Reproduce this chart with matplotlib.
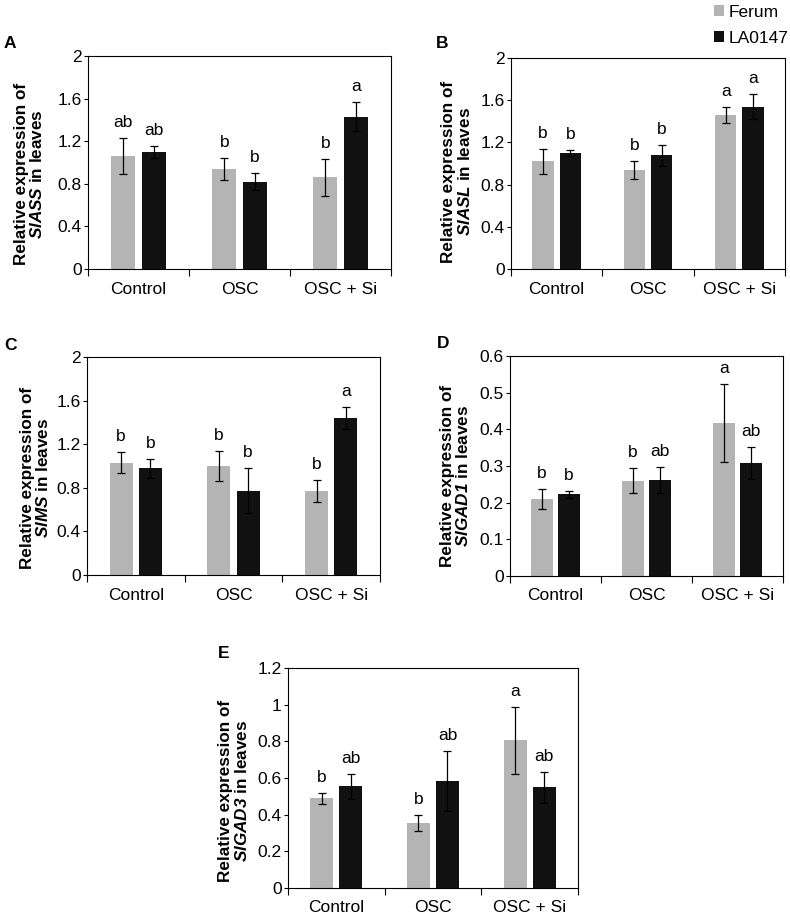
import matplotlib
matplotlib.use('Agg')
import matplotlib.pyplot as plt
import numpy as np

plt.rcParams['font.family'] = ['Liberation Sans', 'DejaVu Sans']
plt.rcParams['mathtext.fontset'] = 'custom'
plt.rcParams['mathtext.it'] = 'Liberation Sans:italic'
plt.rcParams['mathtext.bf'] = 'Liberation Sans:bold'
plt.rcParams['mathtext.bfit'] = 'Liberation Sans:bold:italic'
plt.rcParams['mathtext.rm'] = 'Liberation Sans'

# dados
grupos = ['Control', 'OSC', 'OSC + Si']

ass_ferum = [1.06, 0.94, 0.86]
ass_ferum_err = [0.17, 0.10, 0.17]
ass_la = [1.10, 0.82, 1.43]
ass_la_err = [0.055, 0.08, 0.135]
ass_ferum_let = ['ab', 'b', 'b']
ass_la_let = ['ab', 'b', 'a']

asl_ferum = [1.02, 0.94, 1.46]
asl_ferum_err = [0.115, 0.085, 0.075]
asl_la = [1.10, 1.08, 1.54]
asl_la_err = [0.03, 0.10, 0.12]
asl_ferum_let = ['b', 'b', 'a']
asl_la_let = ['b', 'b', 'a']

ms_ferum = [1.03, 1.00, 0.77]
ms_ferum_err = [0.094, 0.138, 0.10]
ms_la = [0.98, 0.775, 1.44]
ms_la_err = [0.088, 0.205, 0.098]
ms_ferum_let = ['b', 'b', 'b']
ms_la_let = ['b', 'b', 'a']

gad1_ferum = [0.21, 0.26, 0.417]
gad1_ferum_err = [0.028, 0.034, 0.107]
gad1_la = [0.223, 0.262, 0.308]
gad1_la_err = [0.01, 0.036, 0.043]
gad1_ferum_let = ['b', 'b', 'a']
gad1_la_let = ['b', 'ab', 'ab']

gad3_ferum = [0.489, 0.353, 0.805]
gad3_ferum_err = [0.029, 0.043, 0.183]
gad3_la = [0.555, 0.585, 0.549]
gad3_la_err = [0.067, 0.165, 0.084]
gad3_ferum_let = ['b', 'b', 'a']
gad3_la_let = ['ab', 'ab', 'ab']

cor_ferum = '#b4b4b4'
cor_la = '#111111'

W, H = 790, 917
fig = plt.figure(figsize=(7.9, 9.17), dpi=100)


def px_axes(left, right, top, bottom):
    return fig.add_axes([left / W, 1 - bottom / H, (right - left) / W, (bottom - top) / H])


def gera_barras(ax, ferum, ferum_err, la, la_err, let_f, let_l, ymax, step):
    x = np.arange(len(grupos))
    larg = 0.235
    b1 = ax.bar(x - 0.15, ferum, larg, color=cor_ferum, yerr=ferum_err,
                error_kw=dict(ecolor='black', elinewidth=0.9, capsize=3, capthick=0.9),
                label='Ferum', zorder=2)
    b2 = ax.bar(x + 0.15, la, larg, color=cor_la, yerr=la_err,
                error_kw=dict(ecolor='black', elinewidth=0.9, capsize=3, capthick=0.9),
                label='LA0147', zorder=2)
    for i in range(len(grupos)):
        ax.annotate(let_f[i], (x[i] - 0.15, ferum[i] + ferum_err[i]), xytext=(0, 11),
                    textcoords='offset pixels', ha='center', va='baseline', fontsize=12.5)
        ax.annotate(let_l[i], (x[i] + 0.15, la[i] + la_err[i]), xytext=(0, 11),
                    textcoords='offset pixels', ha='center', va='baseline', fontsize=12.5)
    ax.set_xlim(-0.5, 2.5)
    ax.set_ylim(0, ymax)
    ax.set_yticks(np.arange(0, ymax + step / 2, step))
    ax.yaxis.set_major_formatter(matplotlib.ticker.FuncFormatter(lambda v, p: '%g' % round(v, 2)))
    ax.set_xticks(x)
    ax.set_xticklabels(grupos)
    ax.set_xticks([-0.5, 0.5, 1.5, 2.5], minor=True)
    ax.tick_params(axis='x', which='major', length=0, pad=9, labelsize=12.5)
    ax.tick_params(axis='x', which='minor', length=5, width=0.8, direction='out')
    ax.tick_params(axis='y', length=3, width=0.8, pad=1.5, labelsize=12.5)
    for s in ax.spines.values():
        s.set_linewidth(0.8)
    return b1, b2


def rotulo(xc, yc, gene, letra, lx, ly):
    fig.text(xc / W, 1 - yc / H, 'Relative expression of\n$\\mathbfit{' + gene + '}$ in leaves',
             rotation=90, ha='center', va='center', fontsize=12.3, fontweight='bold',
             linespacing=1.05, multialignment='center')
    fig.text(lx / W, 1 - ly / H, letra, ha='left', va='center', fontsize=12.5, fontweight='bold')


axA = px_axes(88, 391, 56, 269)
b1, b2 = gera_barras(axA, ass_ferum, ass_ferum_err, ass_la, ass_la_err,
                     ass_ferum_let, ass_la_let, 2, 0.4)
rotulo(29.5, 174, 'SlASS', 'A', 4, 44)

axB = px_axes(511, 785, 58, 269)
gera_barras(axB, asl_ferum, asl_ferum_err, asl_la, asl_la_err,
            asl_ferum_let, asl_la_let, 2, 0.4)
rotulo(457, 172, 'SlASL', 'B', 436, 44)

axC = px_axes(87, 380, 357, 575)
gera_barras(axC, ms_ferum, ms_ferum_err, ms_la, ms_la_err,
            ms_ferum_let, ms_la_let, 2, 0.4)
rotulo(35.5, 478, 'SlMS', 'C', 4, 345)

axD = px_axes(510, 783, 356, 576)
gera_barras(axD, gad1_ferum, gad1_ferum_err, gad1_la, gad1_la_err,
            gad1_ferum_let, gad1_la_let, 0.6, 0.1)
rotulo(455.5, 476, 'SlGAD1', 'D', 437, 343)

axE = px_axes(288, 578, 668, 888)
gera_barras(axE, gad3_ferum, gad3_ferum_err, gad3_la, gad3_la_err,
            gad3_ferum_let, gad3_la_let, 1.2, 0.2)
rotulo(234, 791, 'SlGAD3', 'E', 218, 653)

fig.legend([b1, b2], ['Ferum', 'LA0147'], loc='upper left', bbox_to_anchor=(714 / W, 1 - 5 / H),
           frameon=False, fontsize=12.5, handlelength=0.6, handleheight=0.6,
           handletextpad=0.25, labelspacing=0.62, borderpad=0, borderaxespad=0)

plt.savefig('out.png', dpi=100)
plt.close()
